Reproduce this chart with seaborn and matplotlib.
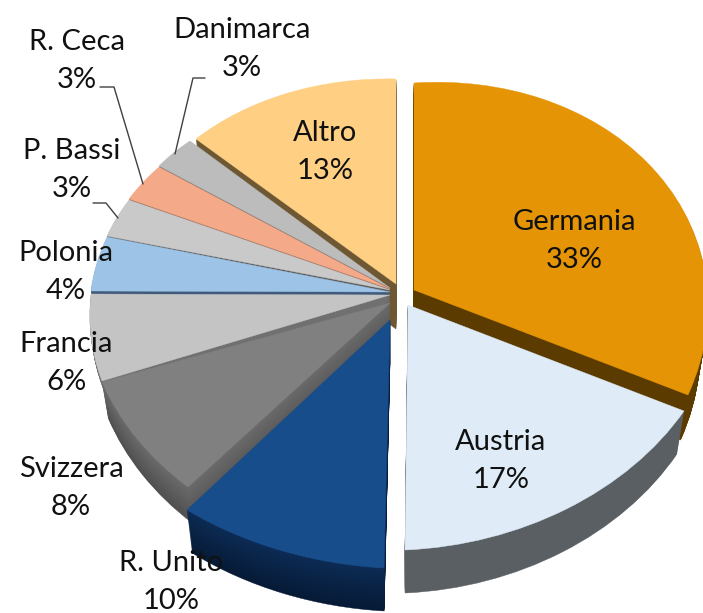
import numpy as np
import matplotlib
matplotlib.use('Agg')
import matplotlib.pyplot as plt
import seaborn as sns
from matplotlib.transforms import Affine2D, Transform

paesi = ['Germania', 'Austria', 'R. Unito', 'Svizzera', 'Francia', 'Polonia', 'P. Bassi', 'R. Ceca', 'Danimarca', 'Altro']
quote = [33, 17, 10, 8, 6, 4, 3, 3, 3, 13]

colori_top = ['#e59405', '#dfecf8', '#174d8a', '#808080', '#c4c4c4', '#9dc3e6', '#c9c9c9', '#f4a988', '#bcbcbc', '#ffd083']
colori_lato = ['#5b3b00', '#5a5f63', '#0c2b54', '#6b6b6b', '#707070', '#3f5a7a', '#5f5f5f', '#8a5a45', '#5a5a5a', '#6e5733']
colori_fondo = ['#5b3b00', '#5a5f63', '#061a36', '#505050', '#707070', '#3f5a7a', '#5f5f5f', '#8a5a45', '#5a5a5a', '#6e5733']

# geometry of the 3d look, in pixels of the reference
apici = [(414, 290), (408, 305), (390, 320), (390, 303), (390, 295), (390, 292), (390, 290), (390, 289), (390, 288), (396, 284)]
spigoli = [((414, 83), (688, 395)), ((684, 411), (405, 550)), ((384, 568), (187, 510)), ((188, 487), (102, 382)),
           ((102, 381), (91, 294)), ((91, 291), (107, 237)), ((107, 236), (129, 200)), ((129, 199), (159, 167)),
           ((159, 166), (190, 141)), ((196, 139), (396, 79))]
spessori = [45, 43, 43, 36, 8, 5, 4, 3, 4, 45]
prospettiva = [0.145, 0, 0, 0, 0, 0, 0, 0, 0, 0]
ordine = [9, 8, 7, 6, 5, 4, 3, 2, 0, 1]  # back to front

pos_testi = [(574, 241), (501, 461), (171, 582), (71, 488), (66, 363), (66, 272), (72, 170), (77, 61), (242, 49), (325, 152)]
linee_guida = [[(100, 87), (114, 87), (143, 184)], [(205, 78), (193, 78), (175, 154)], [(93, 203), (106, 203), (118, 218)]]

H = 613
sns.set_theme(style='white')
plt.rcParams['font.family'] = ['Lato', 'DejaVu Sans']

fig = plt.figure(figsize=(7.03, 6.13), dpi=100)
ax = fig.add_axes([0, 0, 1, 1])

cum = np.cumsum([0] + quote) / 100 * 2 * np.pi


class Prospettiva(Transform):
    input_dims = 2
    output_dims = 2

    def __init__(self, m, g):
        super().__init__()
        self.m = m
        self.g = g

    def transform_non_affine(self, values):
        values = np.asarray(values)
        den = 1 + self.g * values[:, 1]
        return (values @ self.m.T) / den[:, None]


def matrice(i):
    a = np.array(apici[i], float)
    p0, p1 = spigoli[i]
    g = prospettiva[i]
    c0, c1 = np.cos(cum[i]), np.cos(cum[i + 1])
    v = np.array([[(p0[0] - a[0]) * (1 + g * c0), (p1[0] - a[0]) * (1 + g * c1)],
                  [(a[1] - p0[1]) * (1 + g * c0), (a[1] - p1[1]) * (1 + g * c1)]], float)
    u = np.array([[np.sin(cum[i]), np.sin(cum[i + 1])], [c0, c1]])
    return v @ np.linalg.inv(u)


for k in range(max(spessori), -1, -1):
    wedges, _ = ax.pie(quote, startangle=90, counterclock=False, colors=sns.color_palette(colori_top))
    for i, w in enumerate(wedges):
        if k > spessori[i]:
            w.remove()
            continue
        if k == 0:
            colore = colori_top[i]
        else:
            colore = sns.blend_palette([colori_lato[i], colori_fondo[i]], spessori[i] + 1)[k]
        tr = Prospettiva(matrice(i), prospettiva[i]) + Affine2D().scale(1 - 0.0006 * k, 1).translate(apici[i][0], H - apici[i][1] - k)
        w.set_transform(tr + ax.transData)
        w.set_zorder(ordine.index(i) + 1 + 0.9 * (1 - k / 50))
        w.set_facecolor(colore)
        w.set_edgecolor(colore)
        w.set_linewidth(0.3)

ax.set_aspect('auto')
ax.set_xlim(0, 703)
ax.set_ylim(0, H)
ax.axis('off')

for linea in linee_guida:
    ax.plot([p[0] for p in linea], [H - p[1] for p in linea], color='#404040', lw=1, zorder=20)

for nome, q, (x, y) in zip(paesi, quote, pos_testi):
    ax.text(x, H - y, f'{nome}\n{q}%', ha='center', va='center', fontsize=21, color='#111111', linespacing=1.58, zorder=30)

fig.savefig('out.png', dpi=100)
